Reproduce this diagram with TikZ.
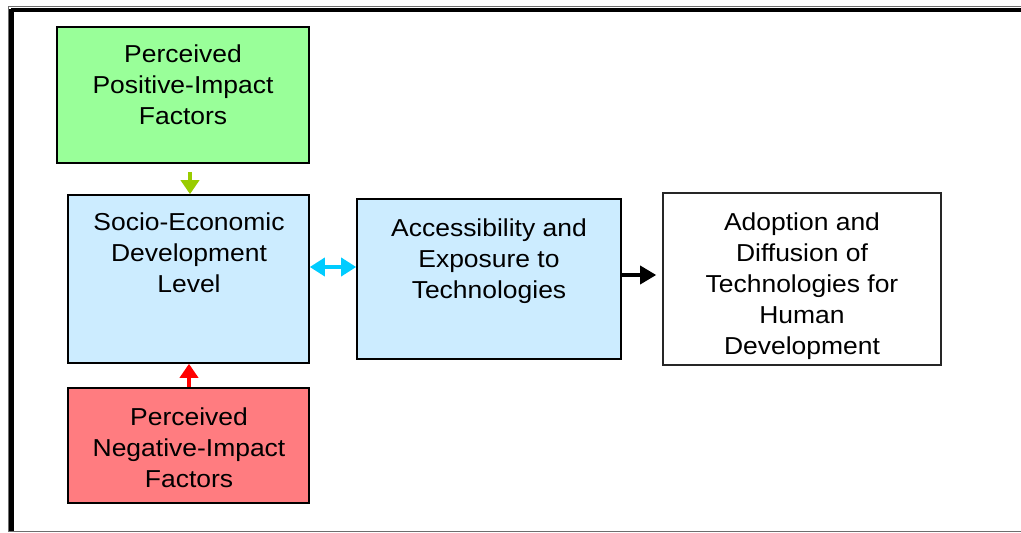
\documentclass[tikz,border=0pt]{standalone}
\usepackage{fontspec}
\setmainfont{Liberation Sans}[FakeStretch=1.08]
\usetikzlibrary{arrows.meta}
\definecolor{posgreen}{HTML}{99FF99}
\definecolor{negred}{HTML}{FF7C80}
\definecolor{lblue}{HTML}{CCECFF}
\definecolor{agreen}{HTML}{99CC00}
\definecolor{acyan}{HTML}{00CCFF}
\definecolor{framegray}{HTML}{6E6E6E}
\tikzset{
  box/.style={draw=black, line width=1.6pt, inner sep=0pt},
  txt/.style={anchor=north, align=center, inner sep=0pt,
    font=\fontsize{24.5}{31}\selectfont},
  tip/.style={-{Triangle[width=18pt,length=14pt]}},
  garrow/.style={tip, line width=3.5pt, draw=agreen},
  rarrow/.style={tip, line width=3.5pt, draw=red},
  carrow/.style={{Triangle[width=18pt,length=15pt]}-{Triangle[width=18pt,length=15pt]}, line width=3.5pt, draw=acyan},
  karrow/.style={-{Triangle[width=18pt,length=16pt]}, line width=3.5pt, draw=black},
}
\begin{document}
\begin{tikzpicture}[x=1pt,y=-1pt]
\useasboundingbox (0,0) rectangle (1021,533);
% frame
\draw[framegray, line width=1pt] (8,6.5) -- (1030,6.5);
\draw[framegray, line width=1pt] (8,6.5) -- (8,531.5) -- (1030,531.5);
\draw[black, line width=3.5pt] (11,10) -- (1030,10);
\draw[black, line width=4.5pt] (11.5,8.5) -- (11.5,531);
% boxes
\node[box, fill=posgreen, minimum width=252pt, minimum height=136pt] (pos) at (183,95) {};
\node[box, fill=lblue, minimum width=241pt, minimum height=168pt] (soc) at (188.5,279) {};
\node[box, fill=lblue, minimum width=264pt, minimum height=160pt] (acc) at (489,279) {};
\node[box, fill=white, draw=black!85, minimum width=278pt, minimum height=172pt] (ado) at (802,279) {};
\node[box, fill=negred, minimum width=241pt, minimum height=115pt] (neg) at (188.5,445.5) {};
% texts
\node[txt] (tpos) at (183,44.4) {Perceived\\Positive-Impact\\Factors};
\node[txt] (tsoc) at (189,212.4) {Socio-Economic\\Development\\Level};
\node[txt] (tacc) at (489,219) {Accessibility and\\Exposure to\\Technologies};
\node[txt] (tado) at (802,212.4) {Adoption and\\Diffusion of\\Technologies for\\Human\\Development};
\node[txt] (tneg) at (189,407.4) {Perceived\\Negative-Impact\\Factors};
% arrows
\draw[garrow, shorten <=8pt] ([xshift=1.5pt]soc.north |- pos.south) -- ([xshift=1.5pt]soc.north);
\draw[rarrow] ([xshift=0.5pt]neg.north) -- ([xshift=0.5pt]soc.south);
\draw[carrow] ([yshift=12pt]soc.east) -- ([yshift=12pt]acc.west);
\draw[karrow, shorten >=6pt] ([yshift=4pt]acc.east) -- ([yshift=4pt]acc.east -| ado.west);
\end{tikzpicture}
\end{document}
